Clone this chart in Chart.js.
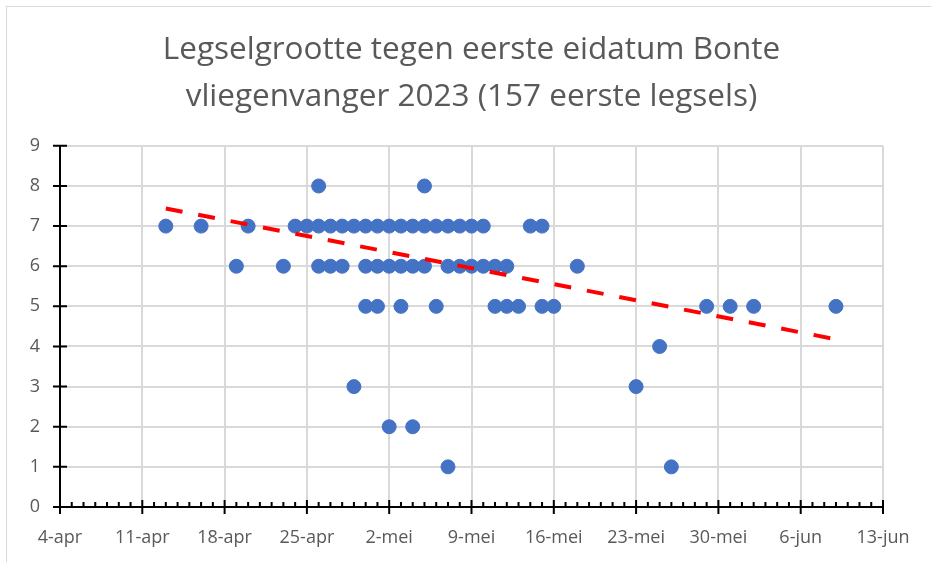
<!DOCTYPE html>
<html>
<head>
<meta charset="utf-8">
<script src="https://cdn.jsdelivr.net/npm/chart.js@4.4.0/dist/chart.umd.min.js"></script>
<style>
  html, body { margin: 0; padding: 0; background: #fff; }
  #wrap { position: relative; width: 931px; height: 562px; overflow: hidden; }
  #frame { position: absolute; left: 6px; top: 6px; width: 960px; height: 600px; border: 1px solid #d9d9d9; }
  canvas { position: absolute; left: 0; top: 0; }
</style>
</head>
<body>
<div id="wrap">
  <div id="frame"></div>
  <canvas id="chart" width="931" height="562"></canvas>
</div>
<script>
// first egg date per clutch, grouped by clutch size
const size8 = ['26-apr', '5-mei'];
const size7 = ['13-apr', '16-apr', '20-apr', '24-apr', '25-apr', '26-apr', '27-apr', '28-apr', '29-apr', '30-apr',
  '1-mei', '2-mei', '3-mei', '4-mei', '5-mei', '6-mei', '7-mei', '8-mei', '9-mei', '10-mei', '14-mei', '15-mei'];
const size6 = ['19-apr', '23-apr', '26-apr', '27-apr', '28-apr', '30-apr', '1-mei', '2-mei', '3-mei', '4-mei', '5-mei',
  '7-mei', '8-mei', '9-mei', '10-mei', '11-mei', '12-mei', '18-mei'];
const size5 = ['30-apr', '1-mei', '3-mei', '6-mei', '11-mei', '12-mei', '13-mei', '15-mei', '16-mei',
  '29-mei', '31-mei', '2-jun', '9-jun'];
const size4 = ['25-mei'];
const size3 = ['29-apr', '23-mei'];
const size2 = ['2-mei', '4-mei'];
const size1 = ['7-mei', '26-mei'];

// linear trend line (start / end)
const trendDates = ['13-apr', '9-jun'];
const trendValues = [7.44, 4.18];

const xTickLabels = ['4-apr', '11-apr', '18-apr', '25-apr', '2-mei', '9-mei', '16-mei', '23-mei', '30-mei', '6-jun', '13-jun'];

const monthIdx = { apr: 3, mei: 4, jun: 5 };
const start = Date.UTC(2023, 3, 4);
function toDay(s) {
  const [d, m] = s.split('-');
  return (Date.UTC(2023, monthIdx[m], +d) - start) / 86400000;
}

const groups = [[8, size8], [7, size7], [6, size6], [5, size5], [4, size4], [3, size3], [2, size2], [1, size1]];
const points = [];
groups.forEach(([n, dates]) => dates.forEach(d => points.push({ x: toDay(d), y: n })));

const trend = trendDates.map((d, i) => ({ x: toDay(d), y: trendValues[i] }));

const textColor = '#595959';
const gridColor = '#d9d9d9';
const font = "'Open Sans', sans-serif";

// black axis lines with Excel-like tick marks
const axisPlugin = {
  id: 'axes',
  afterDatasetsDraw(chart) {
    const { ctx, chartArea, scales } = chart;
    const x = scales.x, y = scales.y;
    const y0 = y.getPixelForValue(0);
    const x0 = x.getPixelForValue(0);
    ctx.save();
    ctx.strokeStyle = '#000';
    ctx.lineWidth = 2;
    ctx.beginPath();
    ctx.moveTo(chartArea.left, y0);
    ctx.lineTo(chartArea.right, y0);
    ctx.moveTo(x0, chartArea.top);
    ctx.lineTo(x0, chartArea.bottom);
    for (let d = 0; d <= 70; d++) {
      const px = x.getPixelForValue(d);
      if (d % 7 === 0) {
        ctx.moveTo(px, y0 - 7);
        ctx.lineTo(px, y0 + 7);
      } else {
        ctx.moveTo(px, y0 - 5);
        ctx.lineTo(px, y0);
      }
    }
    for (let v = 0; v <= 9; v++) {
      const py = y.getPixelForValue(v);
      ctx.moveTo(x0 - 7, py);
      ctx.lineTo(x0 + 7, py);
    }
    ctx.stroke();
    ctx.restore();
  }
};

new Chart(document.getElementById('chart'), {
  type: 'scatter',
  data: {
    datasets: [
      {
        type: 'line',
        label: 'Trend',
        data: trend,
        borderColor: '#ff0000',
        borderWidth: 4,
        borderDash: [17, 16],
        pointRadius: 0,
        fill: false
      },
      {
        label: 'Legselgrootte',
        data: points,
        backgroundColor: '#4472c4',
        borderColor: '#4472c4',
        pointRadius: 7,
        pointHoverRadius: 7
      }
    ]
  },
  plugins: [axisPlugin],
  options: {
    responsive: false,
    animation: false,
    layout: { padding: { left: 0, right: 48, top: 0, bottom: 13 } },
    plugins: {
      legend: { display: false },
      tooltip: { enabled: false },
      title: {
        display: true,
        fullSize: false,
        text: ['Legselgrootte tegen eerste eidatum Bonte', 'vliegenvanger 2023 (157 eerste legsels)'],
        color: textColor,
        font: { family: font, size: 31.5, weight: 'normal', lineHeight: 1.49 },
        padding: { top: 27, bottom: 25 }
      }
    },
    scales: {
      x: {
        type: 'linear',
        min: 0,
        max: 70,
        afterBuildTicks(scale) {
          scale.ticks = xTickLabels.map((l, i) => ({ value: i * 7 }));
        },
        ticks: {
          color: textColor,
          font: { family: font, size: 18 },
          padding: 20,
          maxRotation: 0,
          callback: (v, i) => xTickLabels[i]
        },
        afterFit(scale) { scale.height = 42; },
        grid: { color: gridColor, lineWidth: 2, drawTicks: false },
        border: { display: false }
      },
      y: {
        min: 0,
        max: 9,
        ticks: {
          stepSize: 1,
          color: textColor,
          font: { family: font, size: 18 },
          padding: 20
        },
        afterFit(scale) { scale.width = 60; },
        grid: { color: gridColor, lineWidth: 2, drawTicks: false },
        border: { display: false }
      }
    }
  }
});
</script>
</body>
</html>
